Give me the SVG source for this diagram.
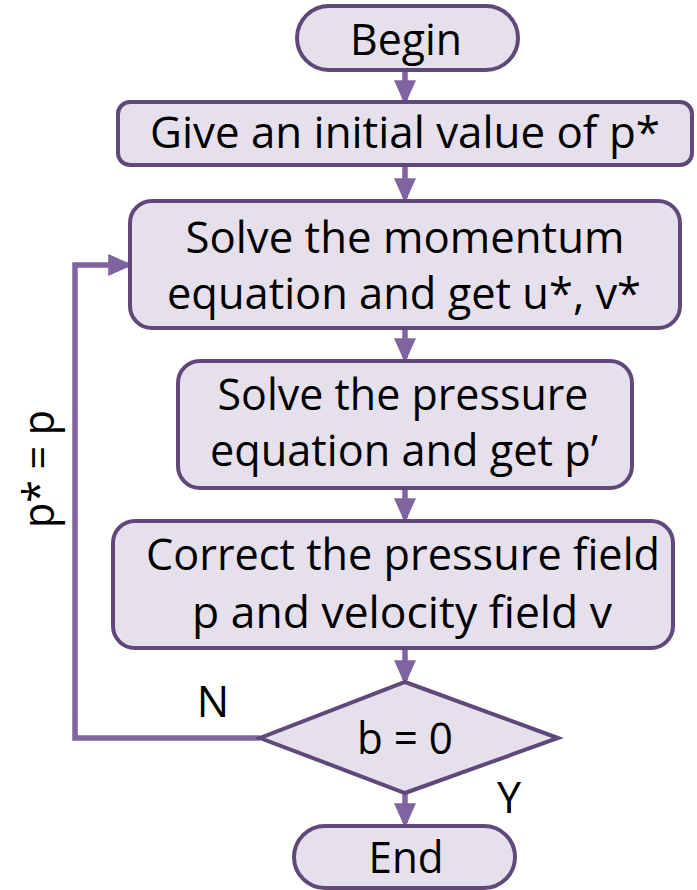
<svg xmlns="http://www.w3.org/2000/svg" width="697" height="890" viewBox="0 0 697 890">
<style>
.n{fill:#e5e0ec;stroke:#5f497a;stroke-width:4}
.t{font-family:"Open Sans","Liberation Sans",Arial,sans-serif;font-size:43px;fill:#000;text-anchor:middle}
.c{fill:none;stroke:#8064a2;stroke-width:5.5}
</style>
<defs>
<marker id="ah" markerWidth="4.5" markerHeight="4" refX="3.6" refY="2" orient="auto" markerUnits="strokeWidth">
<path d="M0,0 L4.5,2 L0,4 Z" fill="#8064a2"/>
</marker>
</defs>
<g id="connectors">
<line class="c" x1="405" y1="72" x2="405" y2="100" marker-end="url(#ah)"/>
<line class="c" x1="405" y1="167" x2="405" y2="198" marker-end="url(#ah)"/>
<line class="c" x1="405" y1="330" x2="405" y2="358" marker-end="url(#ah)"/>
<line class="c" x1="405" y1="490" x2="405" y2="518" marker-end="url(#ah)"/>
<line class="c" x1="405" y1="650" x2="405" y2="680" marker-end="url(#ah)"/>
<line class="c" x1="405" y1="794" x2="405" y2="823" marker-end="url(#ah)"/>
<polyline class="c" points="260,738 75,738 75,265 128,265" marker-end="url(#ah)"/>
</g>
<g id="begin">
<rect class="n" x="297" y="6" width="221" height="64" rx="32"/>
<text class="t" x="406" y="55" textLength="112" lengthAdjust="spacingAndGlyphs">Begin</text>
</g>
<g id="init">
<rect class="n" x="118" y="102" width="574" height="63" rx="12"/>
<text class="t" x="405" y="148" textLength="510" lengthAdjust="spacingAndGlyphs">Give an initial value of p*</text>
</g>
<g id="momentum">
<rect class="n" x="130" y="201" width="550" height="127" rx="22"/>
<text class="t" x="405" y="253" textLength="439" lengthAdjust="spacingAndGlyphs">Solve the momentum</text>
<text class="t" x="404" y="309" textLength="474" lengthAdjust="spacingAndGlyphs">equation and get u*, v*</text>
</g>
<g id="pressure">
<rect class="n" x="178" y="361" width="454" height="127" rx="22"/>
<text class="t" x="403" y="410" textLength="371" lengthAdjust="spacingAndGlyphs">Solve the pressure</text>
<text class="t" x="404" y="466" textLength="388" lengthAdjust="spacingAndGlyphs">equation and get p’</text>
</g>
<g id="correct">
<rect class="n" x="113" y="521" width="560" height="127" rx="22"/>
<text class="t" x="403" y="570" textLength="514" lengthAdjust="spacingAndGlyphs">Correct the pressure field</text>
<text class="t" x="402" y="628" textLength="420" lengthAdjust="spacingAndGlyphs">p and velocity field v</text>
</g>
<g id="decision">
<polygon class="n" points="405,682 558,738 405,793 260,738"/>
<text class="t" x="405" y="754" textLength="96" lengthAdjust="spacingAndGlyphs">b = 0</text>
</g>
<g id="end">
<rect class="n" x="294" y="826" width="221" height="62" rx="31"/>
<text class="t" x="406" y="873" textLength="75" lengthAdjust="spacingAndGlyphs">End</text>
</g>
<text class="t" x="213" y="717">N</text>
<text class="t" x="509" y="813">Y</text>
<text class="t" transform="translate(54,469) rotate(-90)" textLength="118" lengthAdjust="spacingAndGlyphs">p* = p</text>
</svg>
